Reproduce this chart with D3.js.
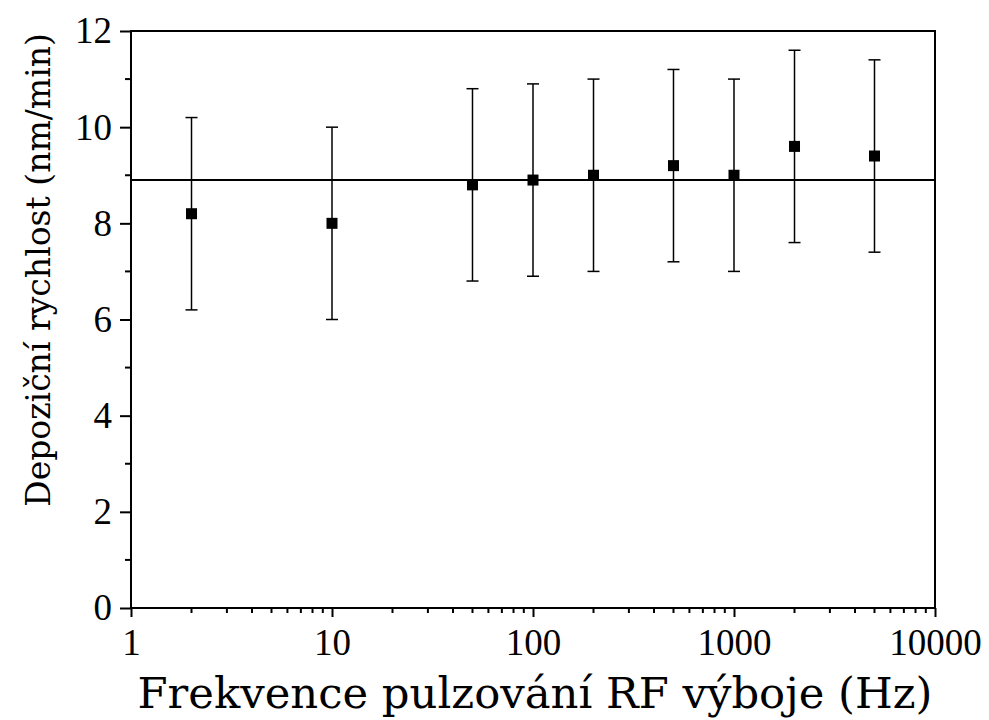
<!DOCTYPE html>
<html>
<head>
<meta charset="utf-8">
<script src="https://cdn.jsdelivr.net/npm/d3@7"></script>
<style>
  body { margin: 0; background: #fff; }
  svg text { fill: #000; }
</style>
</head>
<body>
<div id="chart"></div>
<script>
// data
const freqs = [2, 10, 50, 100, 200, 500, 1000, 2000, 5000];
const rates = [8.2, 8.0, 8.8, 8.9, 9.0, 9.2, 9.0, 9.6, 9.4];
const errors = [2, 2, 2, 2, 2, 2, 2, 2, 2];
const meanRate = 8.9;
const xTicks = [1, 10, 100, 1000, 10000];
const yTicks = [0, 2, 4, 6, 8, 10, 12];

const width = 989, height = 720;
const margin = {top: 31, right: 54, bottom: 112, left: 131};

const svg = d3.select("#chart").append("svg")
    .attr("width", width)
    .attr("height", height);

const x = d3.scaleLog()
    .domain([1, 10000])
    .range([margin.left, width - margin.right]);

const y = d3.scaleLinear()
    .domain([0, 12])
    .range([height - margin.bottom, margin.top]);

// minor ticks
let xMinor = [];
for (let d = 1; d < 10000; d *= 10) {
    for (let k = 2; k <= 9; k++) xMinor.push(d * k);
}
let yMinor = d3.range(1, 12, 2);

const g = svg.append("g");

// frame
g.append("rect")
    .attr("x", x(1))
    .attr("y", y(12))
    .attr("width", x(10000) - x(1))
    .attr("height", y(0) - y(12))
    .attr("fill", "none")
    .attr("stroke", "#000")
    .attr("stroke-width", 2);

// x axis
const xAxis = g.append("g")
    .attr("transform", `translate(0, ${y(0)})`)
    .call(d3.axisBottom(x).tickValues(xTicks).tickFormat(d3.format("d")).tickSize(9).tickPadding(12))
xAxis.select(".domain").remove();
xAxis.selectAll("line").attr("stroke-width", 2);
xAxis.selectAll("text").attr("font-size", 37).attr("font-family", "Liberation Serif");

g.append("g")
    .selectAll("line")
    .data(xMinor)
    .join("line")
    .attr("x1", d => x(d)).attr("x2", d => x(d))
    .attr("y1", y(0)).attr("y2", y(0) + 5)
    .attr("stroke", "#000")
    .attr("stroke-width", 2);

// y axis
const yAxis = g.append("g")
    .attr("transform", `translate(${x(1)}, 0)`)
    .call(d3.axisLeft(y).tickValues(yTicks).tickSize(11).tickPadding(8));
yAxis.select(".domain").remove();
yAxis.selectAll("line").attr("stroke-width", 2);
yAxis.selectAll("text").attr("font-size", 37).attr("font-family", "Liberation Serif");

g.append("g")
    .selectAll("line")
    .data(yMinor)
    .join("line")
    .attr("x1", x(1) - 6).attr("x2", x(1))
    .attr("y1", d => y(d)).attr("y2", d => y(d))
    .attr("stroke", "#000")
    .attr("stroke-width", 2);

// mean line
g.append("line")
    .attr("x1", x(1)).attr("x2", x(10000))
    .attr("y1", y(meanRate)).attr("y2", y(meanRate))
    .attr("stroke", "#000")
    .attr("stroke-width", 2);

const points = freqs.map((f, i) => ({f: f, v: rates[i], e: errors[i]}));

// error bars
const bars = g.append("g").selectAll("g")
    .data(points)
    .join("g");

bars.append("line")
    .attr("x1", d => x(d.f)).attr("x2", d => x(d.f))
    .attr("y1", d => y(d.v - d.e)).attr("y2", d => y(d.v + d.e))
    .attr("stroke", "#000")
    .attr("stroke-width", 1.5);

bars.selectAll(".cap")
    .data(d => [{f: d.f, v: d.v - d.e}, {f: d.f, v: d.v + d.e}])
    .join("line")
    .attr("class", "cap")
    .attr("x1", d => x(d.f) - 6).attr("x2", d => x(d.f) + 6)
    .attr("y1", d => y(d.v)).attr("y2", d => y(d.v))
    .attr("stroke", "#000")
    .attr("stroke-width", 1.5);

// markers
g.append("g").selectAll("rect")
    .data(points)
    .join("rect")
    .attr("x", d => x(d.f) - 5.5)
    .attr("y", d => y(d.v) - 5.5)
    .attr("width", 11)
    .attr("height", 11)
    .attr("fill", "#000");

// axis titles, font size picked so the text spans the same length as in the picture
function fitText(sel, target) {
    let len = sel.node().getComputedTextLength();
    sel.attr("font-size", 40 * target / len);
}

const xTitle = svg.append("text")
    .attr("x", (x(1) + x(10000)) / 2 + 2)
    .attr("y", 708)
    .attr("text-anchor", "middle")
    .attr("font-family", "DejaVu Serif")
    .attr("font-size", 40)
    .text("Frekvence pulzování RF výboje (Hz)");
fitText(xTitle, 795);

const yTitle = svg.append("text")
    .attr("transform", `translate(50, ${270}) rotate(-90)`)
    .attr("text-anchor", "middle")
    .attr("font-family", "DejaVu Serif")
    .attr("font-size", 40)
    .text("Depoziční rychlost (nm/min)");
fitText(yTitle, 474);
</script>
</body>
</html>
